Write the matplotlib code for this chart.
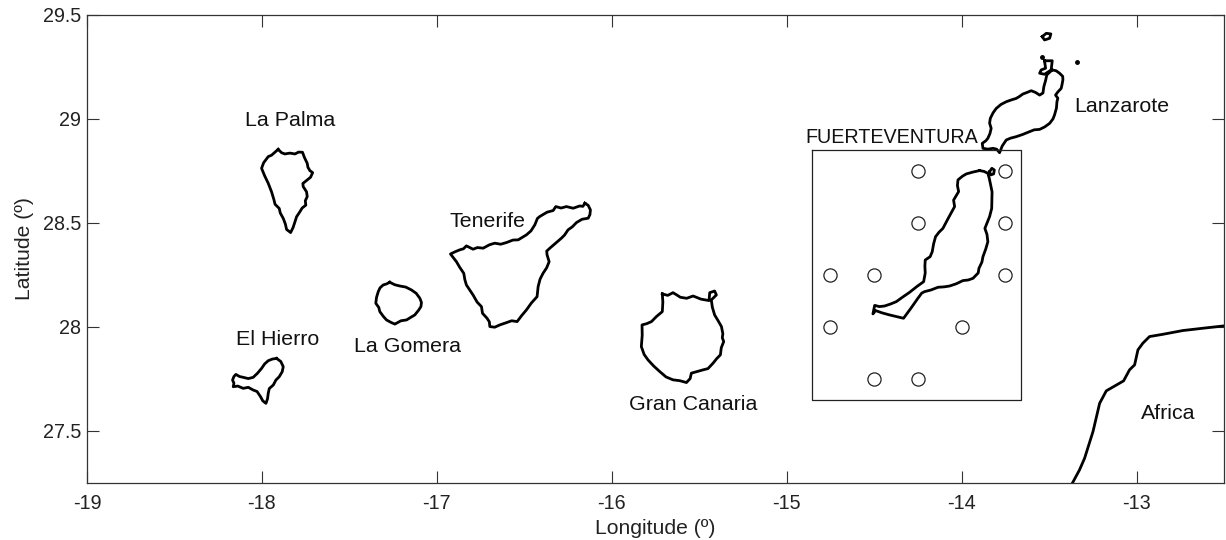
import matplotlib

matplotlib.use("Agg")
import matplotlib.pyplot as plt

plt.rcParams["font.family"] = ["Liberation Sans", "DejaVu Sans"]
plt.rcParams["axes.unicode_minus"] = False

# Linie brzegowe (dlugosc, szerokosc)
la_palma_lon = [-17.907, -17.888, -17.869, -17.840, -17.811, -17.790, -17.768, -17.757, -17.741, -17.737, -17.726, -17.710, -17.722, -17.741, -17.766, -17.764, -17.745, -17.741, -17.752, -17.749, -17.770, -17.783, -17.802, -17.811, -17.822, -17.836, -17.859, -17.866, -17.878, -17.895, -17.901, -17.925, -17.931, -17.945, -17.964, -17.985, -18.002, -17.990, -17.964, -17.945]
la_palma_lat = [28.854, 28.838, 28.832, 28.836, 28.832, 28.841, 28.840, 28.815, 28.787, 28.768, 28.752, 28.742, 28.720, 28.707, 28.690, 28.675, 28.650, 28.627, 28.607, 28.586, 28.572, 28.554, 28.530, 28.506, 28.478, 28.454, 28.469, 28.495, 28.522, 28.548, 28.570, 28.590, 28.611, 28.650, 28.691, 28.728, 28.763, 28.790, 28.819, 28.826]

la_gomera_lon = [-17.269, -17.240, -17.211, -17.178, -17.145, -17.118, -17.097, -17.088, -17.091, -17.105, -17.126, -17.150, -17.173, -17.205, -17.240, -17.262, -17.288, -17.305, -17.326, -17.332, -17.349, -17.345, -17.335, -17.325, -17.307, -17.288]
la_gomera_lat = [28.215, 28.203, 28.197, 28.192, 28.178, 28.162, 28.138, 28.118, 28.098, 28.080, 28.058, 28.046, 28.034, 28.030, 28.014, 28.022, 28.034, 28.050, 28.074, 28.094, 28.114, 28.142, 28.170, 28.188, 28.202, 28.207]

el_hierro_lon = [-17.916, -17.892, -17.878, -17.884, -17.901, -17.920, -17.935, -17.958, -17.964, -17.968, -17.977, -17.995, -18.008, -18.028, -18.050, -18.078, -18.107, -18.138, -18.164, -18.160, -18.168, -18.160, -18.149, -18.128, -18.107, -18.078, -18.050, -18.025, -18.002, -17.985, -17.964, -17.940]
el_hierro_lat = [27.849, 27.834, 27.809, 27.785, 27.761, 27.745, 27.721, 27.704, 27.681, 27.655, 27.633, 27.645, 27.665, 27.690, 27.697, 27.710, 27.705, 27.716, 27.713, 27.730, 27.745, 27.762, 27.772, 27.762, 27.758, 27.752, 27.758, 27.778, 27.801, 27.822, 27.838, 27.846]

tenerife_lon = [-16.154, -16.135, -16.122, -16.125, -16.135, -16.170, -16.202, -16.225, -16.250, -16.270, -16.288, -16.325, -16.354, -16.372, -16.370, -16.358, -16.372, -16.393, -16.410, -16.421, -16.427, -16.460, -16.488, -16.515, -16.541, -16.572, -16.602, -16.640, -16.669, -16.697, -16.700, -16.713, -16.739, -16.745, -16.770, -16.793, -16.831, -16.840, -16.846, -16.870, -16.888, -16.922, -16.895, -16.869, -16.848, -16.831, -16.793, -16.768, -16.735, -16.700, -16.669, -16.635, -16.602, -16.565, -16.535, -16.488, -16.462, -16.440, -16.425, -16.412, -16.370, -16.335, -16.320, -16.290, -16.259, -16.221, -16.183, -16.165]
tenerife_lat = [28.595, 28.585, 28.563, 28.540, 28.523, 28.518, 28.502, 28.482, 28.467, 28.442, 28.427, 28.400, 28.379, 28.365, 28.347, 28.314, 28.285, 28.258, 28.230, 28.194, 28.146, 28.115, 28.082, 28.055, 28.026, 28.030, 28.021, 28.010, 27.999, 28.002, 28.025, 28.042, 28.066, 28.098, 28.120, 28.154, 28.202, 28.228, 28.258, 28.288, 28.314, 28.351, 28.362, 28.371, 28.376, 28.390, 28.374, 28.382, 28.379, 28.395, 28.403, 28.398, 28.406, 28.418, 28.419, 28.443, 28.462, 28.491, 28.522, 28.531, 28.552, 28.560, 28.579, 28.572, 28.579, 28.571, 28.582, 28.580]

gran_canaria_lon = [-15.711, -15.680, -15.650, -15.630, -15.608, -15.572, -15.535, -15.490, -15.444, -15.440, -15.412, -15.402, -15.431, -15.425, -15.412, -15.392, -15.373, -15.365, -15.368, -15.360, -15.374, -15.379, -15.400, -15.421, -15.450, -15.478, -15.545, -15.552, -15.573, -15.612, -15.650, -15.690, -15.726, -15.760, -15.793, -15.815, -15.831, -15.826, -15.827, -15.800, -15.773, -15.745, -15.711, -15.708]
gran_canaria_lat = [28.159, 28.152, 28.165, 28.155, 28.143, 28.138, 28.149, 28.134, 28.127, 28.165, 28.173, 28.154, 28.130, 28.095, 28.058, 28.030, 28.002, 27.968, 27.948, 27.930, 27.900, 27.866, 27.848, 27.826, 27.800, 27.794, 27.778, 27.752, 27.733, 27.742, 27.746, 27.760, 27.786, 27.812, 27.842, 27.868, 27.906, 27.960, 28.010, 28.016, 28.026, 28.050, 28.074, 28.120]

fuerteventura_lon = [-13.897, -13.872, -13.850, -13.842, -13.836, -13.826, -13.827, -13.828, -13.840, -13.850, -13.867, -13.855, -13.850, -13.862, -13.878, -13.884, -13.901, -13.905, -13.935, -13.962, -13.993, -14.030, -14.069, -14.100, -14.135, -14.175, -14.212, -14.228, -14.250, -14.290, -14.332, -14.372, -14.412, -14.455, -14.492, -14.507, -14.497, -14.470, -14.440, -14.408, -14.373, -14.335, -14.297, -14.255, -14.217, -14.208, -14.210, -14.208, -14.180, -14.168, -14.160, -14.149, -14.130, -14.107, -14.075, -14.040, -14.046, -14.017, -14.024, -14.021, -13.995, -13.973, -13.935]
fuerteventura_lat = [28.752, 28.748, 28.739, 28.715, 28.691, 28.650, 28.611, 28.570, 28.531, 28.510, 28.474, 28.445, 28.410, 28.375, 28.338, 28.312, 28.282, 28.260, 28.234, 28.226, 28.223, 28.208, 28.197, 28.193, 28.191, 28.178, 28.170, 28.163, 28.138, 28.090, 28.042, 28.050, 28.058, 28.068, 28.079, 28.063, 28.104, 28.098, 28.101, 28.110, 28.122, 28.145, 28.167, 28.195, 28.218, 28.260, 28.292, 28.322, 28.338, 28.362, 28.400, 28.434, 28.455, 28.474, 28.525, 28.579, 28.610, 28.651, 28.680, 28.707, 28.725, 28.736, 28.745]

lobos_lon = [-13.840, -13.827, -13.813, -13.817, -13.834]
lobos_lat = [28.747, 28.763, 28.755, 28.736, 28.731]

lanzarote_lon = [-13.482, -13.460, -13.440, -13.422, -13.421, -13.426, -13.431, -13.450, -13.463, -13.450, -13.455, -13.458, -13.469, -13.478, -13.497, -13.525, -13.554, -13.585, -13.612, -13.650, -13.688, -13.720, -13.745, -13.768, -13.783, -13.800, -13.821, -13.850, -13.878, -13.882, -13.862, -13.850, -13.838, -13.831, -13.840, -13.836, -13.820, -13.802, -13.775, -13.745, -13.715, -13.688, -13.670, -13.650, -13.625, -13.602, -13.578, -13.554, -13.535, -13.530, -13.520, -13.513]
lanzarote_lat = [29.236, 29.232, 29.220, 29.205, 29.188, 29.165, 29.147, 29.130, 29.115, 29.100, 29.083, 29.052, 29.019, 29.000, 28.979, 28.962, 28.950, 28.948, 28.939, 28.926, 28.915, 28.908, 28.899, 28.870, 28.838, 28.855, 28.859, 28.855, 28.859, 28.883, 28.895, 28.907, 28.930, 28.955, 28.980, 29.003, 29.030, 29.051, 29.070, 29.083, 29.092, 29.099, 29.108, 29.120, 29.128, 29.136, 29.128, 29.115, 29.125, 29.155, 29.185, 29.212]

graciosa_lon = [-13.526, -13.482, -13.488, -13.526, -13.554, -13.545, -13.520]
graciosa_lat = [29.280, 29.280, 29.236, 29.215, 29.220, 29.236, 29.244]

alegranza_lon = [-13.539, -13.516, -13.490, -13.497, -13.526]
alegranza_lat = [29.396, 29.412, 29.409, 29.388, 29.380]

# Male wysepki jako kropki
islet_lon = [-13.539, -13.343]
islet_lat = [29.296, 29.274]

africa_lon = [-13.367, -13.326, -13.297, -13.249, -13.211, -13.173, -13.074, -13.040, -13.011, -12.992, -12.964, -12.926, -12.849, -12.735, -12.621, -12.503]
africa_lat = [27.249, 27.313, 27.369, 27.497, 27.633, 27.693, 27.741, 27.794, 27.818, 27.890, 27.922, 27.954, 27.965, 27.983, 27.994, 28.005]

# Stacje pomiarowe i ramka
station_lon = [-14.25, -13.75, -14.25, -13.75, -14.75, -14.5, -13.75, -14.75, -14.0, -14.5, -14.25]
station_lat = [28.75, 28.75, 28.5, 28.5, 28.25, 28.25, 28.25, 28.0, 28.0, 27.75, 27.75]
box_lon = [-14.855, -13.66, -13.66, -14.855, -14.855]
box_lat = [28.85, 28.85, 27.65, 27.65, 28.85]

labels = ["La Palma", "El Hierro", "La Gomera", "Tenerife", "Gran Canaria", "FUERTEVENTURA", "Lanzarote", "Africa"]
label_lon = [-17.84, -17.91, -17.166, -16.71, -15.537, -14.4, -13.086, -12.817]
label_lat = [28.995, 27.942, 27.908, 28.505, 27.625, 28.913, 29.058, 27.586]

x_ticks = [-19, -18, -17, -16, -15, -14, -13]
y_ticks = [27.5, 28, 28.5, 29, 29.5]
y_tick_labels = ["27.5", "28", "28.5", "29", "29.5"]


def main() -> None:
  fig = plt.figure(figsize=(12.26, 5.40), dpi=100)
  ax = fig.add_axes([87 / 1226, 1 - 483 / 540, (1224 - 87) / 1226, (483 - 15) / 540])

  closed = [
    (la_palma_lon, la_palma_lat),
    (la_gomera_lon, la_gomera_lat),
    (el_hierro_lon, el_hierro_lat),
    (tenerife_lon, tenerife_lat),
    (gran_canaria_lon, gran_canaria_lat),
    (fuerteventura_lon, fuerteventura_lat),
    (lobos_lon, lobos_lat),
    (lanzarote_lon, lanzarote_lat),
    (graciosa_lon, graciosa_lat),
    (alegranza_lon, alegranza_lat),
  ]
  for lon, lat in closed:
    ax.plot(lon + lon[:1], lat + lat[:1], color="black", linewidth=2.0, solid_joinstyle="round")

  ax.plot(africa_lon, africa_lat, color="black", linewidth=2.0)
  ax.plot(islet_lon, islet_lat, linestyle="none", marker="o", color="black", markersize=2.5)

  ax.plot(box_lon, box_lat, color="#222222", linewidth=0.9)
  ax.plot(
    station_lon,
    station_lat,
    linestyle="none",
    marker="o",
    markersize=9.5,
    markerfacecolor="white",
    markeredgecolor="#222222",
    markeredgewidth=0.9,
  )

  for name, lon, lat in zip(labels, label_lon, label_lat):
    size = 14.2 if name.isupper() else 15.4
    ax.text(lon, lat, name, ha="center", va="center", fontsize=size, color="#111111")

  ax.set_xlim(-19, -12.5)
  ax.set_ylim(27.25, 29.5)
  ax.set_xticks(x_ticks)
  ax.set_yticks(y_ticks, y_tick_labels)
  ax.tick_params(
    direction="in",
    top=True,
    right=True,
    length=8.5,
    width=0.8,
    color="#333333",
    labelsize=14.2,
    labelcolor="#222222",
  )
  ax.tick_params(axis="x", pad=8)
  ax.tick_params(axis="y", pad=4.3)
  for spine in ax.spines.values():
    spine.set_color("#333333")
    spine.set_linewidth(0.9)

  ax.set_xlabel("Longitude (º)", fontsize=15.2, color="#222222", labelpad=4)
  ax.set_ylabel("Latitude (º)", fontsize=15.2, color="#222222", labelpad=6)

  fig.savefig("out.png", dpi=100)


if __name__ == "__main__":
  main()
